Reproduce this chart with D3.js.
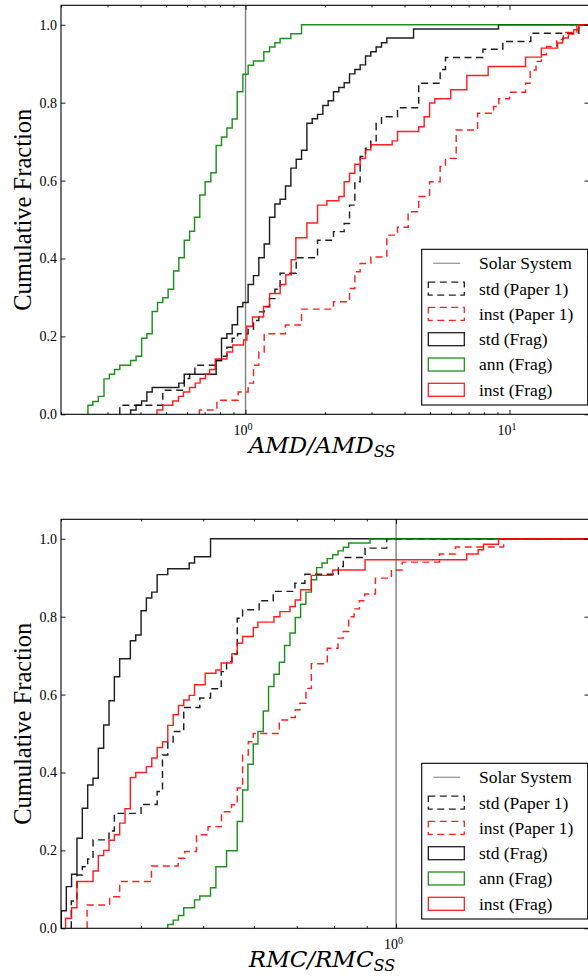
<!DOCTYPE html>
<html>
<head>
<meta charset="utf-8">
<script src="https://cdn.jsdelivr.net/npm/d3@7"></script>
<style>
  body { margin: 0; background: #fff; }
  svg { display: block; font-family: "Liberation Serif", "DejaVu Serif", serif; }
</style>
</head>
<body>
<div id="chart"></div>
<script>
// ---- data: cumulative fraction step points (x of each step, level after it) ----
// top panel: AMD / AMD_SS
var amdStdP1X = [0.334, 0.486, 0.586, 0.614, 0.643, 0.774, 0.811, 0.850, 0.890, 0.933, 1.023, 1.072, 1.123, 1.177, 1.233, 1.292, 1.352, 1.556, 1.874, 2.154, 2.364, 2.477, 2.595, 2.718, 2.848, 2.983, 3.125, 3.274, 3.764, 4.53, 5.46, 5.72, 7.93, 9.43, 12.04, 18.3];
var amdStdP1Y = [0.023, 0.062, 0.092, 0.103, 0.126, 0.138, 0.149, 0.172, 0.195, 0.207, 0.218, 0.241, 0.263, 0.276, 0.297, 0.321, 0.362, 0.402, 0.447, 0.469, 0.490, 0.537, 0.597, 0.662, 0.683, 0.702, 0.747, 0.764, 0.787, 0.850, 0.885, 0.916, 0.937, 0.957, 0.978, 1.0];
var amdInstP1X = [0.669, 0.779, 0.938, 1.023, 1.072, 1.123, 1.177, 1.417, 1.630, 2.154, 2.477, 2.595, 2.718, 2.983, 3.43, 3.764, 4.13, 4.53, 4.98, 5.46, 5.72, 6.28, 7.57, 8.70, 9.11, 10.0, 11.5, 11.97, 12.6, 13.2, 13.8, 15.1, 16.0, 18.0];
var amdInstP1Y = [0.011, 0.036, 0.057, 0.08, 0.126, 0.16, 0.207, 0.229, 0.27, 0.289, 0.323, 0.366, 0.387, 0.404, 0.46, 0.48, 0.52, 0.559, 0.597, 0.636, 0.657, 0.73, 0.773, 0.79, 0.81, 0.827, 0.85, 0.884, 0.906, 0.923, 0.944, 0.962, 0.98, 1.0];
var amdStdFragX = [0.367, 0.385, 0.404, 0.423, 0.443, 0.559, 0.586, 0.774, 0.811, 0.850, 0.890, 0.933, 0.977, 1.023, 1.072, 1.123, 1.177, 1.233, 1.292, 1.352, 1.417, 1.485, 1.556, 1.630, 1.708, 1.789, 1.874, 1.963, 2.056, 2.154, 2.257, 2.364, 2.477, 2.595, 2.718, 2.848, 2.983, 3.125, 3.274, 3.43, 4.33, 9.08];
var amdStdFragY = [0.011, 0.023, 0.034, 0.057, 0.069, 0.080, 0.103, 0.138, 0.195, 0.207, 0.230, 0.276, 0.287, 0.333, 0.356, 0.402, 0.437, 0.506, 0.540, 0.552, 0.586, 0.632, 0.655, 0.678, 0.747, 0.759, 0.770, 0.793, 0.805, 0.828, 0.839, 0.851, 0.874, 0.885, 0.897, 0.920, 0.931, 0.943, 0.954, 0.966, 0.989, 1.0];
var amdAnnFragX = [0.253, 0.264, 0.277, 0.291, 0.305, 0.319, 0.334, 0.367, 0.385, 0.404, 0.423, 0.443, 0.464, 0.486, 0.509, 0.534, 0.559, 0.586, 0.614, 0.641, 0.671, 0.703, 0.739, 0.774, 0.811, 0.850, 0.890, 0.930, 0.977, 1.023, 1.072, 1.173, 1.233, 1.292, 1.352, 1.485, 1.630];
var amdAnnFragY = [0.023, 0.033, 0.046, 0.091, 0.103, 0.115, 0.126, 0.138, 0.149, 0.195, 0.207, 0.264, 0.287, 0.299, 0.321, 0.368, 0.402, 0.447, 0.470, 0.506, 0.563, 0.597, 0.620, 0.690, 0.712, 0.735, 0.758, 0.828, 0.873, 0.896, 0.907, 0.931, 0.943, 0.954, 0.965, 0.977, 1.0];
var amdInstFragX = [0.462, 0.486, 0.530, 0.557, 0.582, 0.614, 0.645, 0.673, 0.705, 0.731, 0.768, 0.850, 0.893, 0.983, 1.012, 1.063, 1.170, 1.233, 1.353, 1.421, 1.489, 1.551, 1.708, 1.874, 2.033, 2.257, 2.364, 2.477, 2.595, 2.718, 2.848, 2.983, 3.593, 3.764, 4.53, 4.75, 4.98, 5.21, 5.99, 6.89, 8.30, 11.5, 13.2, 15.2, 15.9, 16.7, 17.5, 18.3];
var amdInstFragY = [0.011, 0.023, 0.034, 0.046, 0.057, 0.069, 0.080, 0.092, 0.103, 0.115, 0.142, 0.160, 0.178, 0.191, 0.226, 0.250, 0.277, 0.310, 0.333, 0.358, 0.397, 0.453, 0.491, 0.537, 0.548, 0.559, 0.597, 0.619, 0.642, 0.657, 0.679, 0.692, 0.702, 0.726, 0.738, 0.764, 0.799, 0.810, 0.833, 0.870, 0.893, 0.917, 0.940, 0.953, 0.966, 0.976, 0.987, 1.0];

// bottom panel: RMC / RMC_SS
var rmcStdP1X = [0.3113, 0.3177, 0.3239, 0.3302, 0.3366, 0.3565, 0.3634, 0.4000, 0.4238, 0.4320, 0.4403, 0.4489, 0.4663, 0.4940, 0.5134, 0.5335, 0.5438, 0.5544, 0.5651, 0.5761, 0.6114, 0.6432, 0.6952, 0.7206, 0.8127, 0.8273, 0.8945, 0.9670];
var rmcStdP1Y = [0.07, 0.137, 0.158, 0.178, 0.227, 0.25, 0.295, 0.318, 0.351, 0.445, 0.479, 0.505, 0.567, 0.591, 0.615, 0.659, 0.685, 0.704, 0.796, 0.818, 0.841, 0.865, 0.886, 0.909, 0.929, 0.952, 0.976, 1.0];
var rmcInstP1X = [0.3295, 0.3573, 0.3704, 0.4152, 0.4570, 0.4681, 0.4882, 0.5088, 0.5340, 0.5536, 0.5651, 0.5761, 0.5880, 0.5986, 0.6573, 0.6830, 0.6961, 0.7079, 0.7233, 0.7375, 0.7810, 0.8116, 0.8273, 0.8434, 0.8599, 0.8764, 0.8933, 0.9284, 0.9833, 1.0219, 1.1685, 1.2378, 1.4717];
var rmcInstP1Y = [0.06, 0.081, 0.12, 0.16, 0.18, 0.197, 0.24, 0.261, 0.299, 0.317, 0.36, 0.445, 0.479, 0.5, 0.535, 0.541, 0.561, 0.578, 0.616, 0.679, 0.719, 0.745, 0.762, 0.8, 0.82, 0.841, 0.858, 0.899, 0.92, 0.94, 0.961, 0.979, 1.0];
var rmcStdFragX = [0.3003, 0.3058, 0.3116, 0.3177, 0.3239, 0.3302, 0.3366, 0.3430, 0.3497, 0.3565, 0.3634, 0.3704, 0.3849, 0.3924, 0.4000, 0.4077, 0.4157, 0.4238, 0.4403, 0.4755, 0.4847, 0.5134];
var rmcStdFragY = [0.045, 0.107, 0.139, 0.231, 0.308, 0.368, 0.385, 0.462, 0.522, 0.584, 0.646, 0.692, 0.738, 0.753, 0.815, 0.848, 0.863, 0.908, 0.923, 0.938, 0.954, 1.0];
var rmcAnnFragX = [0.4403, 0.4489, 0.4575, 0.4663, 0.4847, 0.4940, 0.5134, 0.5234, 0.5438, 0.5651, 0.5761, 0.5872, 0.5986, 0.6087, 0.6205, 0.6324, 0.6448, 0.6573, 0.6699, 0.6830, 0.6961, 0.7096, 0.7233, 0.7375, 0.7516, 0.7664, 0.7810, 0.7962, 0.8116, 0.8273, 0.8434, 0.9107];
var rmcAnnFragY = [0.01, 0.021, 0.033, 0.053, 0.073, 0.083, 0.104, 0.158, 0.199, 0.274, 0.355, 0.421, 0.473, 0.505, 0.558, 0.621, 0.652, 0.683, 0.726, 0.758, 0.798, 0.832, 0.863, 0.895, 0.926, 0.938, 0.949, 0.959, 0.969, 0.978, 0.989, 1.0];
var rmcInstFragX = [0.3050, 0.3116, 0.3177, 0.3366, 0.3430, 0.3497, 0.3565, 0.3634, 0.3704, 0.3776, 0.3849, 0.3924, 0.4077, 0.4157, 0.4238, 0.4320, 0.4403, 0.4489, 0.4575, 0.4663, 0.4755, 0.4847, 0.5036, 0.5234, 0.5335, 0.5544, 0.5651, 0.5761, 0.5986, 0.6087, 0.6448, 0.6588, 0.6830, 0.6961, 0.7096, 0.7375, 0.7962, 0.8945, 1.289, 1.343, 1.369, 1.445];
var rmcInstFragY = [0.026, 0.053, 0.12, 0.147, 0.187, 0.2, 0.226, 0.24, 0.27, 0.307, 0.387, 0.4, 0.415, 0.437, 0.464, 0.479, 0.521, 0.548, 0.572, 0.586, 0.598, 0.625, 0.655, 0.663, 0.681, 0.705, 0.732, 0.749, 0.772, 0.786, 0.8, 0.813, 0.826, 0.843, 0.869, 0.906, 0.92, 0.946, 0.961, 0.972, 0.986, 1.0];

var yTicks = [0.0, 0.2, 0.4, 0.6, 0.8, 1.0];
var legendLabels = ["Solar System", "std (Paper 1)", "inst (Paper 1)", "std (Frag)", "ann (Frag)", "inst (Frag)"];
var solarSystem = 1;

// ---- layout ----
var margin = { left: 61, top: 5.3 },
  width = 528, height = 409, panelGap = 514;

var svg = d3.select("#chart").append("svg")
  .attr("width", 588).attr("height", 976);

var seriesStyle = [
  { color: "#000", dash: "7,4.5" },   // std (Paper 1)
  { color: "#f00", dash: "7,4.5" },   // inst (Paper 1)
  { color: "#000", dash: null },      // std (Frag)
  { color: "#008000", dash: null },   // ann (Frag)
  { color: "#f00", dash: null }       // inst (Frag)
];

function panel(idx, domain, series, xLabel) {
  var top = margin.top + idx * panelGap;
  var g = svg.append("g").attr("transform", "translate(" + margin.left + "," + top + ")");

  var x = d3.scaleLog().domain(domain).range([0, width]);
  var y = d3.scaleLinear().domain([0, 1.05]).range([height, 0]);

  var clipId = "clip" + idx;
  g.append("clipPath").attr("id", clipId)
    .append("rect").attr("width", width).attr("height", height);

  var plot = g.append("g").attr("clip-path", "url(#" + clipId + ")");

  // solar system line
  plot.append("line")
    .attr("x1", x(solarSystem)).attr("x2", x(solarSystem))
    .attr("y1", 0).attr("y2", height)
    .attr("stroke", "#808080").attr("stroke-width", 1.4);

  var line = d3.line()
    .x(function (d) { return x(d[0]); })
    .y(function (d) { return y(d[1]); })
    .curve(d3.curveStepAfter);

  series.forEach(function (s, i) {
    var pts = [[s.x[0], 0]];
    s.x.forEach(function (v, j) { pts.push([v, s.y[j]]); });
    pts.push([domain[1], s.y[s.y.length - 1]]);
    plot.append("path")
      .attr("d", line(pts))
      .attr("fill", "none")
      .attr("stroke", seriesStyle[i].color)
      .attr("stroke-opacity", 0.88)
      .attr("stroke-width", 1.45)
      .attr("stroke-dasharray", seriesStyle[i].dash);
  });

  // ticks
  var major = x.ticks().filter(function (v) { return Math.abs(Math.log10(v) % 1) < 1e-9; });
  var minor = x.ticks().filter(function (v) { return major.indexOf(v) < 0; });

  function styleAxis(a) {
    a.select(".domain").remove();
    a.selectAll("line").attr("stroke", "#000").attr("stroke-width", 0.9);
  }

  g.append("g").attr("transform", "translate(0," + height + ")")
    .call(d3.axisBottom(x).tickValues(minor).tickSize(-2.2).tickFormat(""))
    .call(styleAxis);
  g.append("g")
    .call(d3.axisTop(x).tickValues(minor).tickSize(-2.2).tickFormat(""))
    .call(styleAxis);
  g.append("g")
    .call(d3.axisTop(x).tickValues(major).tickSize(-4.5).tickFormat(""))
    .call(styleAxis);
  var xb = g.append("g").attr("transform", "translate(0," + height + ")")
    .call(d3.axisBottom(x).tickValues(major).tickSize(-4.5).tickPadding(7).tickFormat(""))
    .call(styleAxis);
  xb.selectAll(".tick text").each(function (d) {
    var t = d3.select(this)
      .attr("font-family", "Liberation Serif").attr("font-size", 14)
      .attr("fill", "#000").attr("dx", "-3").attr("dy", "1.0em");
    t.append("tspan").text("10");
    t.append("tspan").attr("font-size", 10).attr("dy", -5).text(Math.round(Math.log10(d)));
  });

  var yl = g.append("g")
    .call(d3.axisLeft(y).tickValues(yTicks).tickSize(-4.5).tickPadding(4).tickFormat(d3.format(".1f")))
    .call(styleAxis);
  yl.selectAll("text").attr("font-family", "Liberation Serif").attr("font-size", 14).attr("fill", "#000");
  g.append("g").attr("transform", "translate(" + width + ",0)")
    .call(d3.axisRight(y).tickValues(yTicks).tickSize(-4.5).tickFormat(""))
    .call(styleAxis);

  // frame
  g.append("rect").attr("width", width).attr("height", height)
    .attr("fill", "none").attr("stroke", "#000").attr("stroke-width", 1.1);

  // axis labels
  g.append("text")
    .attr("transform", "translate(" + (-30) + "," + (height / 2) + ") rotate(-90)")
    .attr("text-anchor", "middle").attr("font-size", 24.5)
    .text("Cumulative Fraction");

  var xl = g.append("text")
    .attr("x", width / 2 - 3).attr("y", height + 39)
    .attr("text-anchor", "middle").attr("font-family", "DejaVu Serif")
    .attr("font-size", 23).attr("font-style", "italic");
  xl.append("tspan").text(xLabel + "/" + xLabel);
  xl.append("tspan").attr("font-size", 16).attr("dy", 4).text("SS");

  // legend
  var lg = g.append("g").attr("transform", "translate(" + (421.7 - margin.left) + "," + 244 + ")");
  lg.append("rect").attr("width", 166).attr("height", 155.7)
    .attr("fill", "#fff").attr("stroke", "#000").attr("stroke-width", 1.1);
  legendLabels.forEach(function (lab, i) {
    var cy = 14 + i * 25.3;
    if (i === 0) {
      lg.append("line").attr("x1", 11.5).attr("x2", 38.5).attr("y1", cy).attr("y2", cy)
        .attr("stroke", "#808080").attr("stroke-opacity", 0.75).attr("stroke-width", 1.4);
    } else {
      var st = seriesStyle[i - 1];
      lg.append("rect").attr("x", 6.6).attr("y", cy - 6.5).attr("width", 36).attr("height", 13)
        .attr("fill", "none").attr("stroke", st.color).attr("stroke-opacity", 0.88)
        .attr("stroke-width", 1.3).attr("stroke-dasharray", st.dash);
    }
    lg.append("text").attr("x", 57.3).attr("y", cy + 6).attr("font-size", 17.5).text(lab);
  });
}

panel(0, [0.2, 20], [
  { x: amdStdP1X, y: amdStdP1Y },
  { x: amdInstP1X, y: amdInstP1Y },
  { x: amdStdFragX, y: amdStdFragY },
  { x: amdAnnFragX, y: amdAnnFragY },
  { x: amdInstFragX, y: amdInstFragY }
], "AMD");

panel(1, [0.3, 2], [
  { x: rmcStdP1X, y: rmcStdP1Y },
  { x: rmcInstP1X, y: rmcInstP1Y },
  { x: rmcStdFragX, y: rmcStdFragY },
  { x: rmcAnnFragX, y: rmcAnnFragY },
  { x: rmcInstFragX, y: rmcInstFragY }
], "RMC");
</script>
</body>
</html>
